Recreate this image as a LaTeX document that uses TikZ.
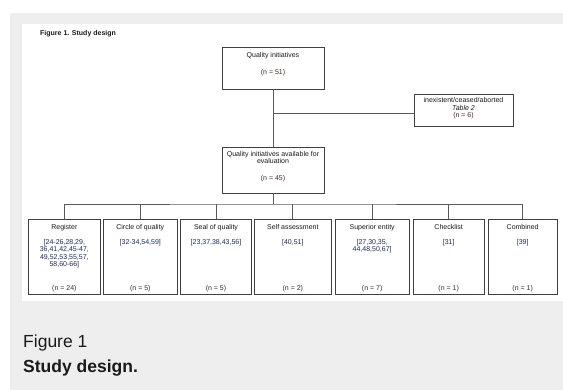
\documentclass[tikz,border=0pt]{standalone}
\usepackage{fontspec}
\setmainfont{Liberation Sans}
\definecolor{bggray}{HTML}{EEEEEE}
\definecolor{boxline}{HTML}{404040}
\definecolor{conline}{HTML}{5A5A5A}
\definecolor{reftxt}{HTML}{1E2A5A}
\definecolor{ntxt}{HTML}{3E2A24}
\definecolor{maintxt}{HTML}{1A1A1A}
\begin{document}
\begin{tikzpicture}[x=1pt,y=-1pt,
  boxnode/.style={draw=boxline,line width=0.8pt,rectangle,inner sep=0pt,fill=white},
  txt/.style={font=\fontsize{7}{7.3}\selectfont,inner sep=0pt,anchor=base,text=maintxt},
  reft/.style={font=\fontsize{7}{7.2}\selectfont,inner sep=0pt,anchor=north,align=center,text=reftxt},
  ntx/.style={txt,text=ntxt},
  conn/.style={draw=conline,line width=0.8pt}]
\useasboundingbox (0,0) rectangle (563,390);
\fill[white] (0,0) rectangle (563,390);
\fill[bggray] (10,13) rectangle (563,390);
\fill[white] (22,24) rectangle (563,301);
\node[txt,anchor=base west,font=\fontsize{7}{8}\selectfont\bfseries] (title) at (40,36) {Figure 1. Study design};
% top box
\node[boxnode,minimum width=102pt,minimum height=42pt] (top) at (273,68) {};
\node[txt] (topa) at (273,57.5) {Quality initiatives};
\node[ntx] (topb) at (273,74.3) {(n = 51)};
% right box
\node[boxnode,minimum width=99pt,minimum height=32pt] (excl) at (463.5,110) {};
\node[txt] (excla) at (463.5,102.5) {inexistent/ceased/aborted};
\node[txt] (exclb) at (463.5,110.5) {\itshape Table 2};
\node[ntx] (exclc) at (463.5,117.3) {(n = 6)};
% middle box
\node[boxnode,minimum width=102pt,minimum height=46pt] (mid) at (273,170) {};
\node[txt] (mida) at (273,156.5) {Quality initiatives available for};
\node[txt] (midb) at (273,163.5) {evaluation};
\node[ntx] (midc) at (273,180.3) {(n = 45)};
% connectors top
\coordinate (split) at (273,113);
\draw[conn] (top.south) -- (mid.north);
\draw[conn] (split) -- (excl.west |- split);
% bottom boxes
\foreach \nm/\xa/\xb/\hd/\rf/\nn in {
  b1/28.7/100/Register/{[24-26,28,29,\\36,41,42,45-47,\\49,52,53,55,57,\\58,60-66]}/24,
  b2/103.3/177.3/Circle of quality/{[32-34,54,59]}/5,
  b3/180.3/251.7/Seal of quality/{[23,37,38,43,56]}/5,
  b4/254/331.7/Self assessment/{[40,51]}/2,
  b5/335/409.3/Superior entity/{[27,30,35,\\44,48,50,67]}/7,
  b6/413.3/484/Checklist/{[31]}/1,
  b7/488.3/557/Combined/{[39]}/1}{
  \pgfmathsetmacro{\cx}{(\xa+\xb)/2}
  \pgfmathsetmacro{\bwid}{\xb-\xa}
  \node[boxnode,minimum width=\bwid pt,minimum height=75pt] (\nm) at (\cx,256.5) {};
  \node[txt] (\nm-h) at (\cx,229.8) {\hd};
  \node[reft] (\nm-r) at (\cx,239.4) {\rf};
  \node[ntx] (\nm-n) at (\cx,290.6) {(n = \nn)};
}
\coordinate (bus) at (273,204);
\draw[conn] (mid.south) -- (bus);
\draw[conn] (b1.north) |- (bus) -| (b7.north);
\foreach \nm in {b2,b3,b4,b5,b6}{
  \draw[conn] (\nm.north) -- (\nm.north |- bus);
}
% caption
\node[anchor=base west,inner sep=0pt,font=\fontsize{17.5}{20}\selectfont,text=maintxt] (cap1) at (23,347.3) {Figure 1};
\node[anchor=base west,inner sep=0pt,font=\fontsize{17.5}{20}\selectfont\bfseries,text=maintxt] (cap2) at (23,372.4) {Study design.};
\end{tikzpicture}
\end{document}
